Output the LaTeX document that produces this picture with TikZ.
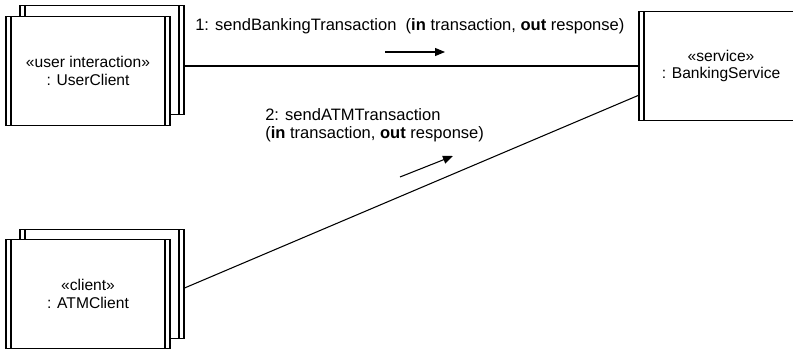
\documentclass[tikz,border=0pt]{standalone}
\usepackage{fontspec}
\setmainfont{Liberation Sans}
\usetikzlibrary{arrows.meta,positioning,calc}

\begin{document}
\begin{tikzpicture}[
  x=0.75pt, y=-0.75pt,
  >={Triangle[length=7.5pt,width=6pt]},
  every node/.style={font=\fontsize{12.4}{13.5}\selectfont},
  objbox/.style={draw, line width=0.8pt, fill=white, inner sep=0pt,
    minimum width=123pt, minimum height=82pt, align=center,
    font=\fontsize{11.7}{13}\selectfont,
    path picture={
      \draw[line width=0.8pt]
        ([xshift=3.75pt]path picture bounding box.north west) --
        ([xshift=3.75pt]path picture bounding box.south west);
      \draw[line width=0.8pt]
        ([xshift=-3.75pt]path picture bounding box.north east) --
        ([xshift=-3.75pt]path picture bounding box.south east);
    }},
  link/.style={line width=0.8pt},
  msgarrow/.style={->, line width=0.8pt}
]
\useasboundingbox (0,0) rectangle (793,350);

%% Objects
\node[objbox] (uback) at (102, 60) {};
\node[objbox] (user)  at (88, 71)
  {«user interaction»\\: UserClient};

\node[objbox] (aback) at (102, 284) {};
\node[objbox] (atm)   at (88, 294)
  {«client»\\: ATMClient};

\node[objbox] (svc) at (721, 66)
  {«service»\\: BankingService};

%% Links
\draw[link] (uback.east |- svc.west) -- (svc.west);
\draw[link] ([yshift=-3pt]aback.east) -- ([yshift=-22pt]svc.west);

%% Messages
\node[anchor=west, inner xsep=0pt] (msg1) at (195, 26)
  {1: sendBankingTransaction\ \ (\textbf{in} transaction, \textbf{out} response)};
\draw[msgarrow] (385, 52) -- (445, 52);

\node[anchor=north west, align=left, inner xsep=0pt] (msg2) at (265, 104)
  {2: sendATMTransaction\\(\textbf{in} transaction, \textbf{out} response)};
\draw[msgarrow] (400, 177) -- (453, 156);

\end{tikzpicture}
\end{document}
